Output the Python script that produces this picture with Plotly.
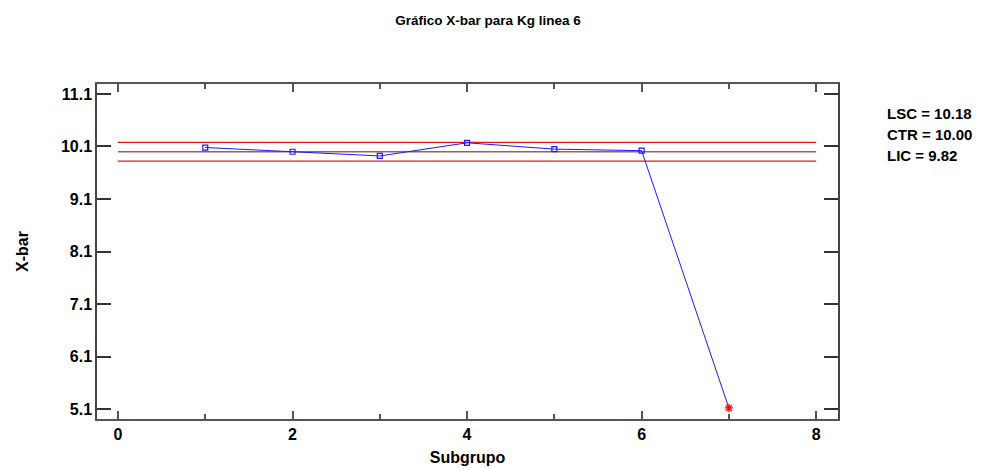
import plotly.graph_objects as go

# Subgroup means for the X-bar chart
subgroups = [1, 2, 3, 4, 5, 6, 7]
xbar = [10.08, 10.00, 9.92, 10.17, 10.05, 10.02, 5.12]

# Control limits
lsc = 10.18
ctr = 10.00
lic = 9.82
limit_x = [0, 8]

y_ticks = [5.1, 6.1, 7.1, 8.1, 9.1, 10.1, 11.1]
x_ticks = [0, 2, 4, 6, 8]

in_control = [(x, y) for x, y in zip(subgroups, xbar) if lic <= y <= lsc + 0.01]
out_control = [(x, y) for x, y in zip(subgroups, xbar) if not (lic <= y <= lsc + 0.01)]

fig = go.Figure()

# Limit lines
fig.add_trace(go.Scatter(x=limit_x, y=[lsc, lsc], mode="lines",
                         line=dict(color="#e8141c", width=1.2), hoverinfo="skip"))
fig.add_trace(go.Scatter(x=limit_x, y=[ctr, ctr], mode="lines",
                         line=dict(color="#a85a5a", width=1.5), hoverinfo="skip"))
fig.add_trace(go.Scatter(x=limit_x, y=[lic, lic], mode="lines",
                         line=dict(color="#e8141c", width=1.2), hoverinfo="skip"))

# Series line
fig.add_trace(go.Scatter(x=subgroups, y=xbar, mode="lines",
                         line=dict(color="#1a1aff", width=1)))
# Points within limits
fig.add_trace(go.Scatter(x=[p[0] for p in in_control], y=[p[1] for p in in_control],
                         mode="markers",
                         marker=dict(symbol="square-open", size=5, color="#1a1aff",
                                     line=dict(width=1.2, color="#1a1aff"))))
# Points outside limits
fig.add_trace(go.Scatter(x=[p[0] for p in out_control], y=[p[1] for p in out_control],
                         mode="markers",
                         marker=dict(symbol="asterisk-open", size=7, color="#ff0000",
                                     line=dict(width=1.3, color="#ff0000"))))

FONT = "Liberation Sans"

W, H = 996, 468
ml, mr, mt, mb = 97, W - 838, 84, H - 419


def to_paper(px, py):
    return (px - ml) / (W - ml - mr), 1 - (py - mt) / (H - mt - mb)


for i, (name, val) in enumerate([("LSC", lsc), ("CTR", ctr), ("LIC", lic)]):
    ax, ay = to_paper(885, 113 + 21 * i)
    fig.add_annotation(x=ax, y=ay, xref="paper", yref="paper",
                       text=f"<b>{name} = {val:.2f}</b>", showarrow=False,
                       xanchor="left", yanchor="middle",
                       font=dict(family=FONT, size=15, color="black"))

fig.update_layout(
    width=W, height=H,
    margin=dict(l=ml, r=mr, t=mt, b=mb, autoexpand=False),
    paper_bgcolor="white", plot_bgcolor="white",
    showlegend=False,
    title=dict(text="<b>Gráfico X-bar para Kg linea 6</b>", x=488 / W, xanchor="center",
               y=1 - 20 / H, yanchor="middle",
               font=dict(family=FONT, size=13.5, color="black")),
    font=dict(family=FONT, color="black"),
)

fig.update_xaxes(
    range=[-0.24, 8.25], tickvals=x_ticks,
    ticktext=[f"<b>{v}</b>" for v in x_ticks],
    ticks="inside", ticklen=8, tickcolor="#555", tickwidth=1.5,
    minor=dict(tickvals=[1, 3, 5, 7], ticks="inside", ticklen=5, tickcolor="#555", tickwidth=1.5),
    showline=True, linecolor="#555", linewidth=1.5, mirror="ticks",
    showgrid=False, zeroline=False, automargin=False,
    tickfont=dict(family=FONT, size=16, color="black"),
    title=dict(text="<b>Subgrupo</b>", standoff=10,
               font=dict(family=FONT, size=16, color="black")),
)
fig.update_yaxes(
    range=[4.91, 11.29], tickvals=y_ticks,
    ticktext=[f"<b>{v:.1f}</b>" for v in y_ticks],
    ticks="inside", ticklen=14, tickcolor="#333", tickwidth=1.5,
    showline=True, linecolor="#444", linewidth=1.5, mirror="ticks",
    showgrid=False, zeroline=False, automargin=False,
    tickfont=dict(family=FONT, size=16, color="black"),
    title=dict(text="<b>X-bar</b>", standoff=28,
               font=dict(family=FONT, size=16, color="black")),
)

fig.write_html("out.html")
